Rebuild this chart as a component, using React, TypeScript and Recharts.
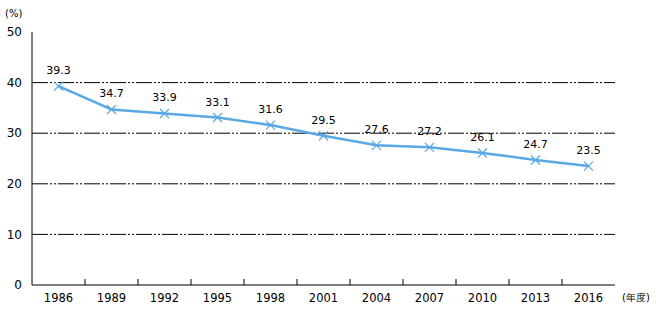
import React from 'react';
import { LineChart, Line, XAxis, YAxis, ReferenceLine, LabelList } from 'recharts';

const years = ['1986', '1989', '1992', '1995', '1998', '2001', '2004', '2007', '2010', '2013', '2016'];
const rates = [39.3, 34.7, 33.9, 33.1, 31.6, 29.5, 27.6, 27.2, 26.1, 24.7, 23.5];
const yTicks = [0, 10, 20, 30, 40, 50];
const gridValues = [10, 20, 30, 40];

const data = years.map((y, i) => ({ year: y, rate: rates[i] }));

const LINE = '#5AA8E4';
const FONT = '"DejaVu Sans", sans-serif';

const Cross = (props: any) => {
  const { cx, cy } = props;
  if (cx == null || cy == null) return null;
  const r = 4.5;
  return (
    <g>
      <line x1={cx - r} y1={cy - r} x2={cx + r} y2={cy + r} stroke={LINE} strokeWidth={1.3} />
      <line x1={cx - r} y1={cy + r} x2={cx + r} y2={cy - r} stroke={LINE} strokeWidth={1.3} />
    </g>
  );
};

const YearTick = (props: any) => {
  const { x, y, payload, index } = props;
  const half = payload && payload.offset ? payload.offset : 0;
  return (
    <g>
      {index > 0 && <line x1={x - half} x2={x - half} y1={y - 8} y2={y - 14} stroke="#000" strokeWidth={1} />}
      <text x={x} y={y + 9} textAnchor="middle" fill="#000" fontSize={11.5} fontFamily={FONT}>
        {payload.value}
      </text>
    </g>
  );
};

export default function App() {
  return (
    <div style={{ position: 'absolute', left: 0, top: 0, width: 656, height: 322, background: '#fff', fontFamily: FONT }}>
      <LineChart width={656} height={322} data={data} margin={{ top: 32, right: 41, bottom: 12, left: 0 }}>
        <XAxis
          dataKey="year"
          xAxisId={0}
          scale="band"
          tickLine={false}
          axisLine={{ stroke: '#000', strokeWidth: 1 }}
          tick={<YearTick />}
          tickMargin={2}
          height={25}
          interval={0}
        />
        <XAxis xAxisId="t" orientation="top" scale="band" height={0} tick={false} tickLine={false} axisLine={{ stroke: '#000' }} dataKey="year" />
        <YAxis
          yAxisId={0}
          domain={[0, 50]}
          ticks={yTicks}
          width={32}
          tickLine={false}
          tickSize={0}
          tickMargin={10}
          axisLine={{ stroke: '#000' }}
          tick={{ fill: '#000', fontSize: 12, fontFamily: FONT }}
          interval={0}
        />
        <YAxis yAxisId="r" orientation="right" width={0} tick={false} tickLine={false} axisLine={{ stroke: '#000' }} domain={[0, 50]} />
        {gridValues.map((v) => (
          <ReferenceLine key={v} y={v} yAxisId={0} stroke="#000" strokeWidth={1} strokeDasharray="16 2 2 2 2 2" />
        ))}
        <Line
          type="linear"
          dataKey="rate"
          stroke={LINE}
          strokeWidth={2.5}
          dot={<Cross />}
          activeDot={false}
          isAnimationActive={false}
        >
          <LabelList dataKey="rate" position="top" offset={12} fill="#000" fontSize={11} fontFamily={FONT} formatter={(v: any) => Number(v).toFixed(1)} />
        </Line>
      </LineChart>
      <span style={{ position: 'absolute', left: 5, top: 8, fontSize: 10, color: '#000' }}>(%)</span>
      <span style={{ position: 'absolute', left: 622, top: 291, fontSize: 10, color: '#000' }}>(年度)</span>
    </div>
  );
}
